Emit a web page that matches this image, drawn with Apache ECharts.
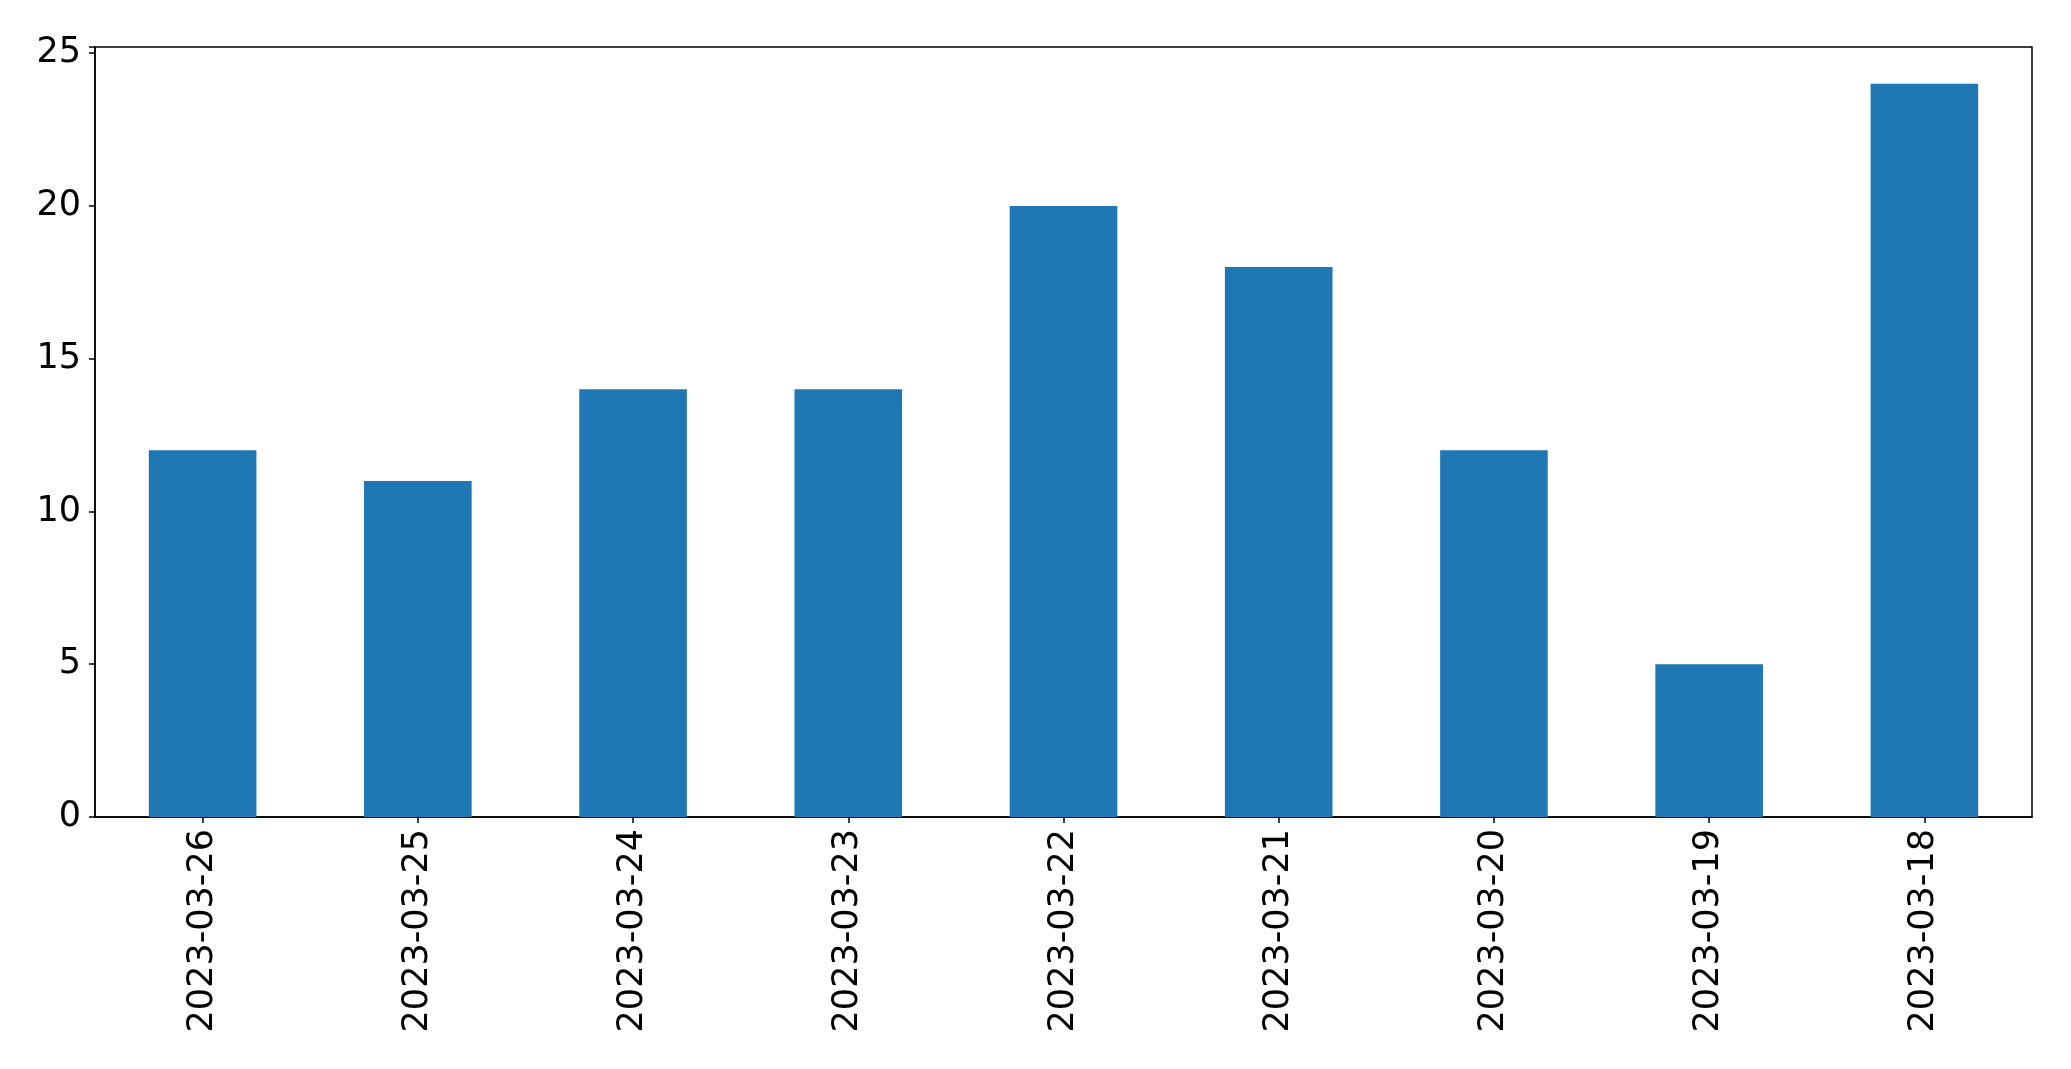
<!DOCTYPE html>
<html><head><meta charset="utf-8">
<script src="https://cdn.jsdelivr.net/npm/echarts@6/dist/echarts.min.js"></script>
<style>html,body{margin:0;padding:0;background:#fff}#c{width:2071px;height:1069px}</style>
</head><body><div id="c"></div>
<script>
const categories = ['2023-03-26','2023-03-25','2023-03-24','2023-03-23','2023-03-22','2023-03-21','2023-03-20','2023-03-19','2023-03-18'];
const values = [12, 11, 14, 14, 20, 18, 12, 5, 24];
const yTicks = [0, 5, 10, 15, 20, 25];

const chart = echarts.init(document.getElementById('c'), null, {renderer: 'canvas'});
const font = 'DejaVu Sans';
chart.setOption({
  animation: false,
  grid: {left: 95, top: 47, width: 1937, height: 770, show: true, borderColor: '#000', borderWidth: 1.5, backgroundColor: 'transparent'},
  xAxis: {
    type: 'category', data: categories, boundaryGap: true,
    axisLine: {show: true, lineStyle: {color: '#000', width: 1.5}},
    axisTick: {show: true, alignWithLabel: true, length: 6, lineStyle: {color: '#000', width: 1.5}},
    axisLabel: {rotate: 90, margin: 12, color: '#000', fontFamily: font, fontSize: 35}
  },
  yAxis: {
    type: 'value', min: 0, max: 25.2, interval: 5,
    splitLine: {show: false},
    axisLine: {show: true, lineStyle: {color: '#000', width: 1.5}},
    axisTick: {show: true, length: 6, lineStyle: {color: '#000', width: 1.5}},
    axisLabel: {margin: 14, color: '#000', fontFamily: font, fontSize: 35,
      formatter: v => yTicks.includes(v) ? String(v) : ''}
  },
  series: [{type: 'bar', data: values, barWidth: '50%', itemStyle: {color: '#1f77b4'}}]
});
</script></body></html>
